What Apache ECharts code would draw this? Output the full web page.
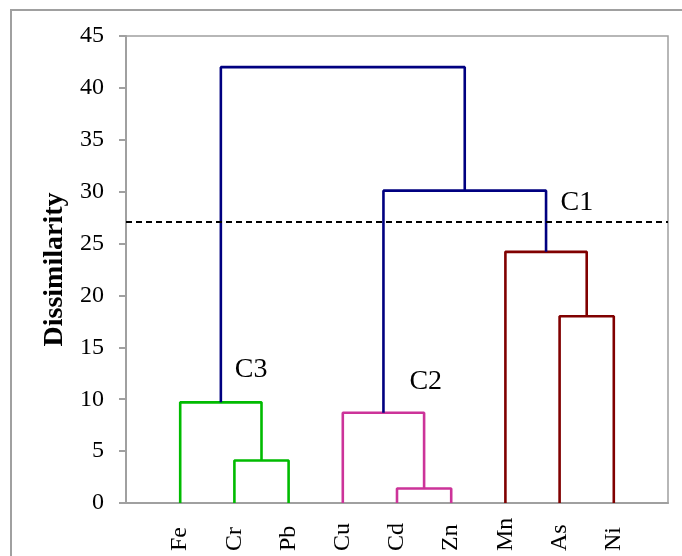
<!DOCTYPE html>
<html><head><meta charset="utf-8">
<script src="https://cdn.jsdelivr.net/npm/echarts@6/dist/echarts.min.js"></script>
<style>html,body{margin:0;padding:0;background:#fff}#c{width:682px;height:556px}</style>
</head><body><div id="c"></div>
<script>
// Leaf order along the x axis
const leaves = ['Fe','Cr','Pb','Cu','Cd','Zn','Mn','As','Ni'];
// Merges: [left child, right child, dissimilarity]; children are leaf names or 'm<index>'
const mergeLeft   = ['Cr','Fe','Cd','Cu','As','Mn','m3','m1'];
const mergeRight  = ['Pb','m0','Zn','m2','Ni','m4','m5','m6'];
const mergeHeight = [4.1, 9.7, 1.4, 8.7, 18.0, 24.2, 30.1, 42.0];
const mergeColor  = ['#00bb00','#00bb00','#cc3399','#cc3399','#800000','#800000','#000080','#000080'];
// Truncation threshold
const cutLevel = 27.1;
// Cluster labels: text, x (leaf-position units), y (dissimilarity)
const clusterNames = ['C1','C2','C3'];
const clusterX = [8.32, 5.53, 2.31];
const clusterY = [28.9, 11.66, 12.82];

const serif = '"Liberation Serif","Times New Roman",serif';
const pos = {}, hgt = {};
leaves.forEach((l,i)=>{pos[l]=i+1;hgt[l]=0;});
const series = [];
mergeHeight.forEach((h,i)=>{
  const a=mergeLeft[i], b=mergeRight[i];
  const xa=pos[a], xb=pos[b];
  pos['m'+i]=(xa+xb)/2; hgt['m'+i]=h;
  series.push({type:'line',silent:true,symbol:'none',animation:false,
    lineStyle:{color:mergeColor[i],width:2.6},
    data:[[xa,hgt[a]],[xa,h],[xb,h],[xb,hgt[b]]]});
});
series.push({type:'line',symbol:'none',animation:false,data:[],
  markLine:{silent:true,symbol:'none',label:{show:false},
    lineStyle:{color:'#000',type:[6,4],width:2},data:[{yAxis:cutLevel}]}});
series.push({type:'scatter',symbol:'circle',symbolSize:1,silent:true,animation:false,
  itemStyle:{opacity:0},
  data:clusterNames.map((n,i)=>({value:[clusterX[i],clusterY[i]],name:n})),
  label:{show:true,position:'inside',formatter:p=>p.name,color:'#000',opacity:1,
    textBorderWidth:0,fontSize:28,fontFamily:serif}});

const chart = echarts.init(document.getElementById('c'));
chart.setOption({
  animation:false,
  graphic:[{type:'rect',shape:{x:11,y:10,width:700,height:600},style:{fill:'none',stroke:'#a0a0a0',lineWidth:2}}],
  grid:{left:126,top:36,right:14,bottom:53,show:true,borderColor:'#a0a0a0',borderWidth:1.5},
  xAxis:{type:'value',min:0,max:10,interval:1,
    axisLine:{lineStyle:{color:'#a0a0a0',width:2}},axisTick:{show:false},splitLine:{show:false},
    axisLabel:{rotate:90,margin:48,align:'left',color:'#000',fontSize:24,fontFamily:serif,
      formatter:v=>(v>=1&&v<=leaves.length)?leaves[v-1]:''}},
  yAxis:{type:'value',min:0,max:45,interval:5,
    name:'Dissimilarity',nameLocation:'middle',nameGap:53,
    nameTextStyle:{fontSize:28,fontWeight:'bold',fontFamily:serif,color:'#000'},
    axisLine:{show:true,lineStyle:{color:'#a0a0a0',width:2}},
    axisTick:{show:true,length:7,lineStyle:{color:'#a0a0a0',width:2}},
    splitLine:{show:false},
    axisLabel:{margin:22,color:'#000',fontSize:24,fontFamily:serif,formatter:v=>String(v)}},
  series:series
});
</script></body></html>
